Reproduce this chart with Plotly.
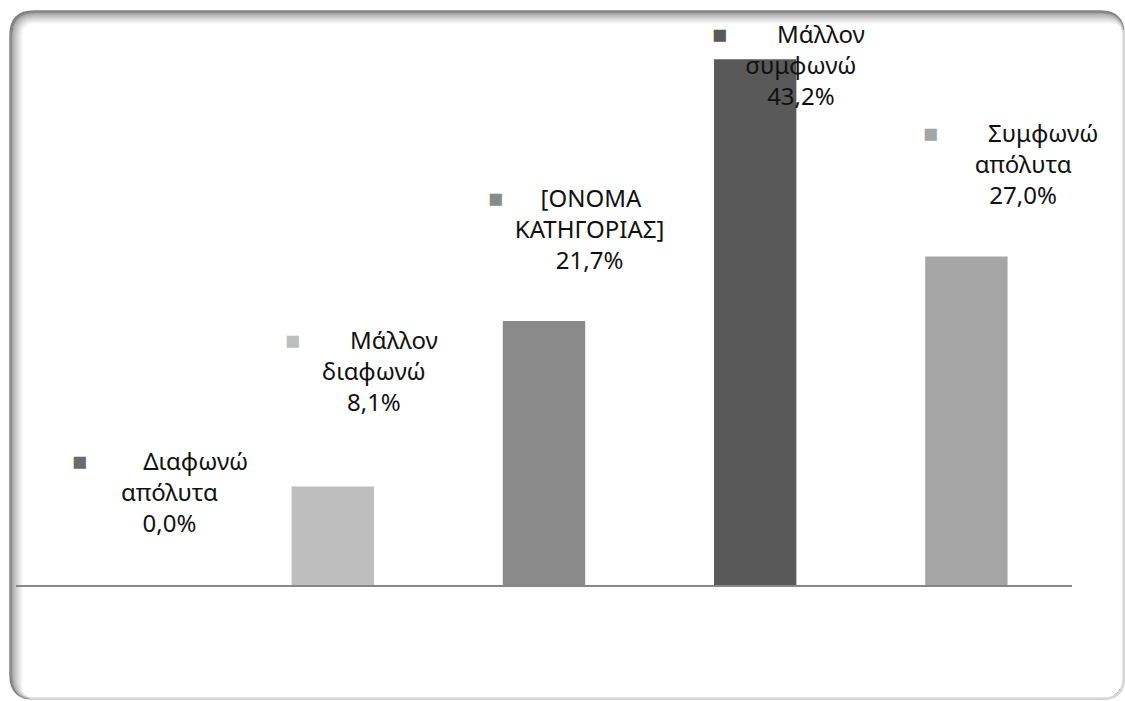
import plotly.graph_objects as go

# Survey answers and their shares (%)
categories = ["Διαφωνώ απόλυτα", "Μάλλον διαφωνώ", "[ΟΝΟΜΑ ΚΑΤΗΓΟΡΙΑΣ]",
              "Μάλλον συμφωνώ", "Συμφωνώ απόλυτα"]
label_lines = [["Διαφωνώ", "απόλυτα"], ["Μάλλον", "διαφωνώ"],
               ["[ΟΝΟΜΑ", "ΚΑΤΗΓΟΡΙΑΣ]"], ["Μάλλον", "συμφωνώ"],
               ["Συμφωνώ", "απόλυτα"]]
percentages = [0.0, 8.1, 21.7, 43.2, 27.0]

# Styling
bar_colors = ["#6b6b6b", "#bdbdbd", "#8a8a8a", "#595959", "#a5a5a5"]
label_dx = [48, 41, 45, 46, 57]     # label offset from bar centre (px)
label_dy = [94, 116, 93, -5, 93]    # label offset above bar top (px)
lead_space = [9, 8, 6, 8, 8]        # gap between key square and first word
trail_space = [3, 4, 8, 4, 4]

W, H = 1125, 701
ML, MR, MT, MB = 16, 53, 15, 116
PW, PH = W - ML - MR, H - MT - MB
PX_PER_PCT = 12.17


def px(x, y):
    """Pixel position -> paper coordinates."""
    return (x - ML) / PW, (H - MB - y) / PH


def rounded_rect(x0, y0, x1, y1, r):
    def p(x, y):
        a, b = px(x, y)
        return f"{a:.5f},{b:.5f}"
    return " ".join([
        "M" + p(x0 + r, y0),
        "L" + p(x1 - r, y0),
        "Q" + p(x1, y0) + " " + p(x1, y0 + r),
        "L" + p(x1, y1 - r),
        "Q" + p(x1, y1) + " " + p(x1 - r, y1),
        "L" + p(x0 + r, y1),
        "Q" + p(x0, y1) + " " + p(x0, y1 - r),
        "L" + p(x0, y0 + r),
        "Q" + p(x0, y0) + " " + p(x0 + r, y0),
        "Z",
    ])


fig = go.Figure(go.Bar(
    x=categories, y=percentages,
    marker=dict(color=bar_colors, line=dict(width=0)),
    hoverinfo="skip",
))

# Rounded frame with a soft inner shadow along the top and left
shapes = []
steps = 14
for i in range(steps):
    t = i / (steps - 1)
    g = int(122 + (253 - 122) * (t ** 0.75)) if i > 2 else 125 + i * 4
    col = f"rgb({g},{g},{g})"
    shapes.append(dict(
        type="path", xref="paper", yref="paper",
        path=rounded_rect(10 + i, 11 + i, 1124 - i * 0.2, 699 - i * 0.2, max(24 - i, 8)),
        line=dict(color=col, width=1.4), layer="below",
    ))
# faint edge along right and bottom
a = px(1124, 30); b = px(1124, 677); c = px(1124, 699); d = px(1102, 699); e = px(30, 699)
shapes.append(dict(
    type="path", xref="paper", yref="paper", layer="below",
    path=f"M{a[0]},{a[1]} L{b[0]},{b[1]} Q{c[0]},{c[1]} {d[0]},{d[1]} L{e[0]},{e[1]}",
    line=dict(color="#d6d6d6", width=2.5),
))

annotations = []
for i, (cat, lines, val) in enumerate(zip(categories, label_lines, percentages)):
    value_txt = f"{val:.1f}".replace(".", ",") + "%"
    first = (f'<span style="color:{bar_colors[i]};font-size:25px">■</span>'
             + "\u00a0" * lead_space[i] + lines[0] + "\u00a0" * trail_space[i])
    text = "<br>".join([first, lines[1], value_txt])
    annotations.append(dict(
        x=cat, y=val, xref="x", yref="y",
        xshift=label_dx[i], yshift=label_dy[i],
        text=text, showarrow=False, align="center",
        xanchor="center", yanchor="middle",
        font=dict(family="Noto Sans", size=24, color="#111111"),
    ))

fig.update_layout(
    width=W, height=H,
    margin=dict(l=ML, r=MR, t=MT, b=MB),
    paper_bgcolor="white", plot_bgcolor="rgba(0,0,0,0)",
    showlegend=False, bargap=0.61,
    shapes=shapes, annotations=annotations,
    xaxis=dict(showticklabels=False, showgrid=False, zeroline=False,
               showline=True, linecolor="#878787", linewidth=2,
               ticks="", range=[-0.5, 4.5], fixedrange=True),
    yaxis=dict(visible=False, range=[0, PH / PX_PER_PCT], fixedrange=True),
)

fig.write_html("out.html")
